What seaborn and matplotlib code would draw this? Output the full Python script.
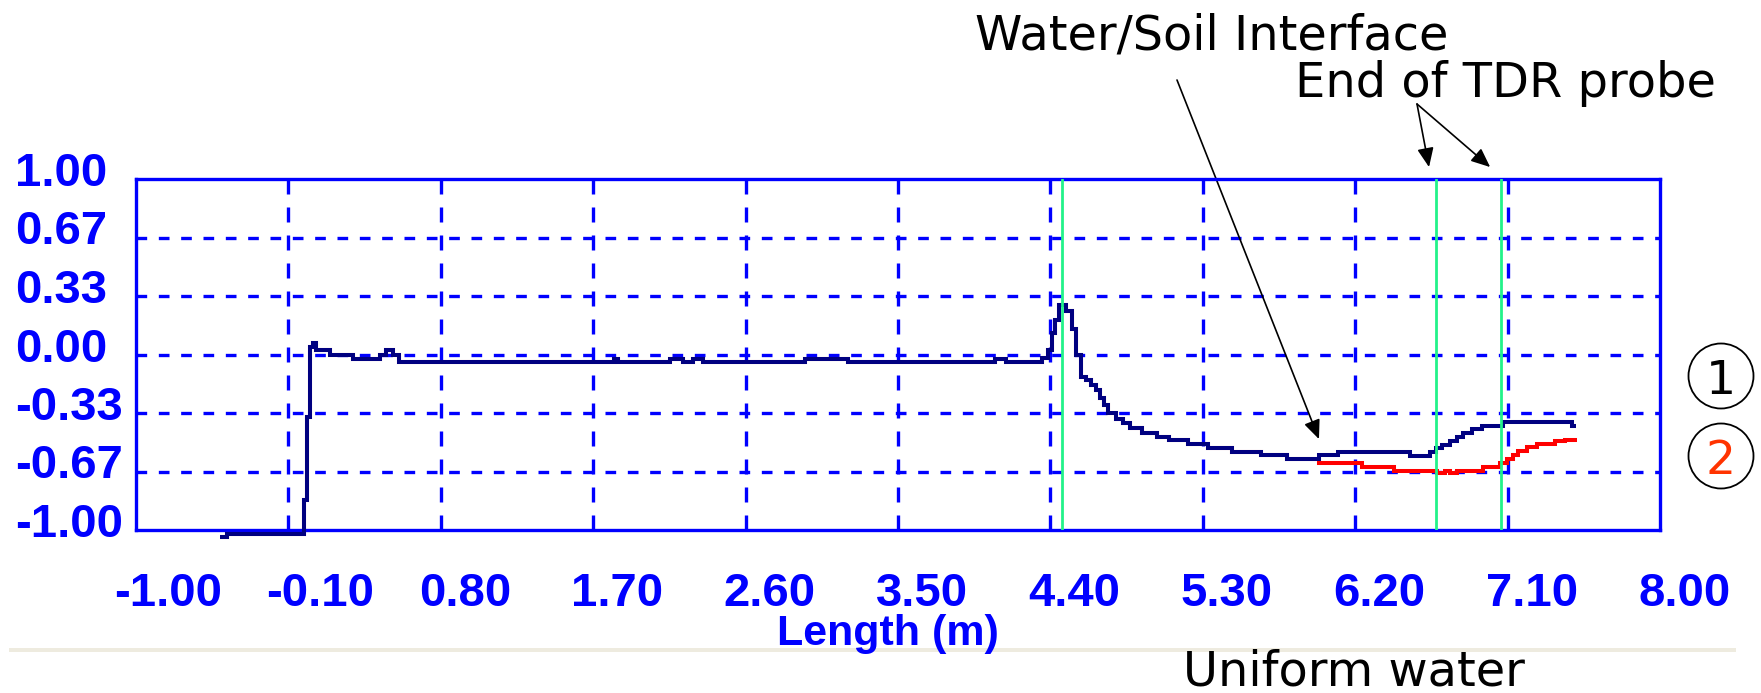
import matplotlib
matplotlib.use("Agg")
import matplotlib.pyplot as plt
import numpy as np
import pandas as pd
import seaborn as sns
from matplotlib.transforms import ScaledTranslation
from matplotlib.patches import Ellipse, Rectangle

# ---------------- data ----------------
# trace portion common to both probes (step trace: length [m], reflection coeff.)
shared_len = [-0.505, -0.465, -0.010, 0.008, 0.030, 0.045, 0.065, 0.148, 0.283,
              0.44, 0.475, 0.52, 0.553, 1.823, 1.847, 2.155, 2.228, 2.289, 2.347,
              2.953, 3.204, 4.073, 4.139, 4.35, 4.386, 4.409, 4.429, 4.449, 4.49,
              4.53, 4.55, 4.58, 4.609, 4.637, 4.671, 4.694, 4.714, 4.743, 4.786,
              4.829, 4.871, 4.943, 5.029, 5.1, 5.214, 5.329, 5.471, 5.643, 5.8]
shared_refl = [-1.04, -1.02, -0.83, -0.355, 0.044, 0.066, 0.025, 0.0, -0.023,
               0.0, 0.025, 0.0, -0.043, -0.025, -0.043, -0.025, -0.043, -0.025, -0.043,
               -0.025, -0.043, -0.025, -0.043, -0.02, 0.025, 0.12, 0.196, 0.28, 0.25,
               0.148, 0.0, -0.127, -0.146, -0.175, -0.203, -0.25, -0.289, -0.336, -0.365,
               -0.393, -0.42, -0.446, -0.469, -0.49, -0.51, -0.53, -0.555, -0.574, -0.596]

# probe 1 (navy) tail
probe1_len = [5.986, 6.1, 6.524, 6.642, 6.678, 6.711, 6.760, 6.800, 6.839,
              6.889, 6.948, 7.074, 7.479, 7.505]
probe1_refl = [-0.574, -0.555, -0.577, -0.554, -0.535, -0.516, -0.493, -0.468, -0.445,
               -0.425, -0.406, -0.383, -0.406, -0.406]

# probe 2 (red) tail
probe2_len = [5.986, 6.243, 6.429, 6.681, 6.73, 6.76, 6.80, 6.957, 7.056, 7.095,
              7.134, 7.164, 7.213, 7.272, 7.380, 7.439, 7.508]
probe2_refl = [-0.617, -0.64, -0.662, -0.673, -0.662, -0.676, -0.662, -0.639, -0.616, -0.595,
               -0.573, -0.550, -0.529, -0.510, -0.493, -0.487, -0.487]

# vertical marker lines (water/soil interface, ends of TDR probes)
marker_len = [4.466, 6.678, 7.059]

xtick_vals = [-1.00, -0.10, 0.80, 1.70, 2.60, 3.50, 4.40, 5.30, 6.20, 7.10, 8.00]
xtick_labels = ["-1.00", "-0.10", "0.80", "1.70", "2.60", "3.50", "4.40", "5.30", "6.20", "7.10", "8.00"]
ytick_vals = [1.0, 2 / 3, 1 / 3, 0.0, -1 / 3, -2 / 3, -1.0]
ytick_labels = ["1.00", "0.67", "0.33", "0.00", "-0.33", "-0.67", "-1.00"]

# ---------------- styling ----------------
sns.set_style("white")
plt.rcParams["font.family"] = ["DejaVu Sans"]

BLUE = "#0000FF"
NAVY = "#000080"
RED = "#FF0000"
GREEN = "#22F28A"

W, H, DPI = 1761, 693, 100
fig = plt.figure(figsize=(W / DPI, H / DPI), dpi=DPI)
fig.patch.set_facecolor("white")

L, R, T, B = 136, 1660, 179, 530
ax = fig.add_axes([L / W, (H - B) / H, (R - L) / W, (B - T) / H])
ax.set_facecolor("white")

df = pd.concat([
    pd.DataFrame({"length": shared_len + probe2_len, "refl": shared_refl + probe2_refl, "trace": "2"}),
    pd.DataFrame({"length": shared_len + probe1_len, "refl": shared_refl + probe1_refl, "trace": "1"}),
], ignore_index=True)

sns.lineplot(data=df, x="length", y="refl", hue="trace", hue_order=["2", "1"],
             palette={"1": NAVY, "2": RED}, estimator=None, sort=False,
             drawstyle="steps-post", lw=2.9, legend=False, ax=ax, zorder=4,
             clip_on=False, solid_joinstyle="miter", solid_capstyle="butt")

for m in marker_len:
    ax.axvline(m, color=GREEN, lw=2.0, zorder=5)

ax.set_xlim(-1.0, 8.0)
ax.set_ylim(-1.0, 1.0)
ax.set_xlabel("")
ax.set_ylabel("")

# grid
for xv in xtick_vals[1:-1]:
    ax.axvline(xv, color=BLUE, lw=2.4, linestyle=(0, (4.5, 3.9)), zorder=1)
for yv in ytick_vals[1:-1]:
    ax.axhline(yv, color=BLUE, lw=2.4, linestyle=(0, (3.2, 3.5)), zorder=1)

for s in ax.spines.values():
    s.set_visible(True)
    s.set_color(BLUE)
    s.set_linewidth(2.4)
    s.set_zorder(3)

ax.set_xticks(xtick_vals, xtick_labels)
ax.set_yticks(ytick_vals, ytick_labels)
ax.tick_params(axis="x", direction="out", length=8.6, width=5.8, color=BLUE,
               labelcolor=BLUE, pad=22)
ax.tick_params(axis="y", direction="out", length=8.6, width=4.5, color=BLUE,
               labelcolor=BLUE, pad=78.5)
for lab in ax.get_xticklabels() + ax.get_yticklabels():
    lab.set_fontfamily("Liberation Sans")
    lab.set_fontweight("bold")
    lab.set_fontsize(34)

for t in ax.xaxis.get_major_ticks():
    t.label1.set_horizontalalignment("left")
    t.label1.set_transform(t.label1.get_transform() + ScaledTranslation(-0.22, 0, fig.dpi_scale_trans))
for t in ax.yaxis.get_major_ticks():
    t.label1.set_horizontalalignment("left")
    t.label1.set_transform(t.label1.get_transform() + ScaledTranslation(0, 0.10, fig.dpi_scale_trans))

# axis title
fig.text(888 / W, (H - 645) / H, "Length (m)", ha="center", va="baseline",
         family="Liberation Sans", weight="bold", size=31, color=BLUE)

# annotations
txt = dict(family="DejaVu Sans", size=34.5, color="black")
fig.text(975 / W, (H - 49) / H, "Water/Soil Interface", ha="left", va="baseline", **txt)
fig.text(1295 / W, (H - 97) / H, "End of TDR probe", ha="left", va="baseline", **txt)
fig.text(1183 / W, (H - 686) / H, "Uniform water", ha="left", va="baseline", **txt)

arrow = dict(arrowstyle="-|>,head_length=0.58,head_width=0.25", color="black",
             lw=1.2, shrinkA=0, shrinkB=0, mutation_scale=20)
ax.annotate("", xy=(5.986, -0.482), xycoords="data",
            xytext=(1177, H - 80), textcoords="figure pixels",
            arrowprops=arrow, annotation_clip=False)
for tip in [6.636, 6.997]:
    ax.annotate("", xy=(tip, 1.068), xycoords="data",
                xytext=(1417, H - 104), textcoords="figure pixels",
                arrowprops=arrow, annotation_clip=False)

# circled trace numbers
for cy, label, col in [(376, "1", "black"), (456, "2", "#FF3300")]:
    fig.add_artist(Ellipse((1721 / W, (H - cy) / H), 65 / W, 65 / H,
                           transform=fig.transFigure, fill=False, ec="black", lw=1.3))
    fig.text(1721 / W, (H - cy) / H, label, ha="center", va="center_baseline",
             family="DejaVu Sans", size=34, color=col)

# separator band of the screenshot
fig.add_artist(Rectangle((9 / W, (H - 652) / H), (1736 - 9) / W, 4 / H,
                         transform=fig.transFigure, color="#EEEBDF", lw=0))

fig.savefig("out.png", dpi=DPI, facecolor="white")
